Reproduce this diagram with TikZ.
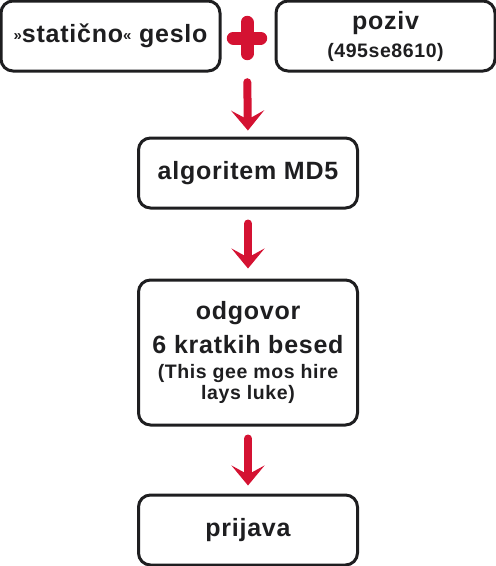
\documentclass[tikz,border=0pt]{standalone}
\usepackage{fontspec}
\setmainfont{Liberation Sans}[LetterSpace=3]
\usetikzlibrary{arrows.meta, positioning}
\definecolor{flowRed}{RGB}{212,18,50}
\definecolor{flowInk}{RGB}{30,30,32}
\newcommand\bigtxt{\fontsize{25}{34}\selectfont}
\newcommand\smalltxt{\fontsize{19.5}{22}\selectfont}
\newcommand\quotetxt[1]{\raisebox{2pt}{\fontsize{15}{22}\selectfont #1}}

\begin{document}
\begin{tikzpicture}[x=1pt, y=-1pt,
    every node/.style={font=\bfseries\bigtxt, text=flowInk},
    box/.style={draw=flowInk, line width=3pt, rounded corners=12pt, fill=white,
                minimum width=219pt, minimum height=70pt, inner sep=0pt, align=center},
    downarrow/.style={draw=flowRed, line width=8pt, line cap=round,
                -{Stealth[length=20pt, width=33pt, inset=9pt]}}]
    \useasboundingbox (0,0) rectangle (496,566);
    % Top row: static password + challenge
    \node[box] (geslo) at (110.5,36) {\quotetxt{»}statično\quotetxt{«} geslo};
    \node[box] (poziv) at (385.5,36) {poziv\\[-6pt]\smalltxt (495se8610)};
    % Plus sign between the two inputs
    \node[minimum width=40pt, minimum height=44pt, inner sep=0pt] (plus) at (247,38) {};
    \draw[flowRed, line width=13pt, line cap=round]
        ([yshift=-6.5pt]plus.north) -- ([yshift=6.5pt]plus.south)
        ([xshift=6.5pt]plus.west) -- ([xshift=-6.5pt]plus.east);
    % Processing chain
    \node[box] (algo) at (248,173) {algoritem MD5};
    \node[box, minimum height=145pt] (odgovor) at (248,352.5)
        {odgovor\\6 kratkih besed\\[-9pt]\smalltxt (This gee mos hire\\[-13pt]\smalltxt lays luke)};
    \node[box] (prijava) at (248,530) {prijava};
    % Arrows
    \draw[downarrow, shorten <=22pt, shorten >=6pt] (plus.south) -- (algo.north);
    \draw[downarrow, shorten <=14pt, shorten >=10pt] (algo.south) -- (odgovor.north);
    \draw[downarrow, shorten <=12pt, shorten >=8pt] (odgovor.south) -- (prijava.north);
\end{tikzpicture}
\end{document}
